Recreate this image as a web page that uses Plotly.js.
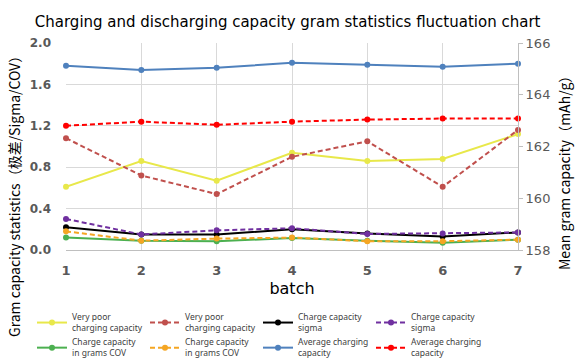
<!DOCTYPE html>
<html><head><meta charset="utf-8">
<script src="https://cdn.plot.ly/plotly-3.0.1.min.js"></script>
<style>html,body{margin:0;padding:0;background:#fff}#chart{width:587px;height:362px}</style>
</head><body><div id="chart"></div>
<script>
const batches = [1, 2, 3, 4, 5, 6, 7];
const seriesNames = [
  "Very poor<br>charging capacity",
  "Very poor<br>charging capacity",
  "Charge capacity<br>sigma",
  "Charge capacity<br>sigma",
  "Charge capacity<br>in grams COV",
  "Charge capacity<br>in grams COV",
  "Average charging<br>capacity",
  "Average charging<br>capacity"
];
const rangeSolid   = [0.61, 0.86, 0.67, 0.94, 0.86, 0.88, 1.12];
const rangeDashed  = [1.08, 0.72, 0.54, 0.90, 1.05, 0.61, 1.16];
const sigmaSolid   = [0.22, 0.15, 0.15, 0.20, 0.16, 0.13, 0.17];
const sigmaDashed  = [0.30, 0.15, 0.19, 0.21, 0.155, 0.16, 0.17];
const covSolid     = [0.12, 0.09, 0.085, 0.115, 0.09, 0.07, 0.10];
const covDashed    = [0.18, 0.09, 0.11, 0.12, 0.085, 0.085, 0.10];
const meanSolid    = [165.12, 164.96, 165.04, 165.24, 165.16, 165.08, 165.20];
const meanDashed   = [162.80, 162.96, 162.84, 162.96, 163.04, 163.08, 163.08];

const colors = ["#e8e84a", "#c0504d", "#000000", "#7030a0", "#4cb050", "#f5a623", "#4f81bd", "#ff0000"];
const dashes = ["solid", "5px,3px", "solid", "5px,3px", "solid", "5px,3px", "solid", "5px,3px"];
const values = [rangeSolid, rangeDashed, sigmaSolid, sigmaDashed, covSolid, covDashed, meanSolid, meanDashed];
const axes = ["y", "y", "y", "y", "y", "y", "y2", "y2"];

const traces = values.map((v, i) => ({
  x: batches, y: v, name: seriesNames[i], yaxis: axes[i],
  type: "scatter", mode: "lines+markers", cliponaxis: false,
  line: {color: colors[i], width: 2, dash: dashes[i]},
  marker: {color: colors[i], size: 6}
}));

const titleFont = {size: 14, color: "#000", family: "Noto Sans CJK SC, DejaVu Sans, sans-serif"};

const layout = {
  width: 587, height: 362,
  margin: {l: 66, r: 69, t: 43, b: 112, autoexpand: false},
  paper_bgcolor: "#fff", plot_bgcolor: "#fff",
  font: {family: "DejaVu Sans, sans-serif", color: "#595959"},
  title: {text: "Charging and discharging capacity gram statistics fluctuation chart",
          x: 0.49, xanchor: "center", y: 15, yanchor: "middle", yref: "container",
          font: {size: 15, color: "#000", family: "DejaVu Sans, sans-serif"}},
  xaxis: {range: [1, 7], tickvals: batches, ticktext: batches.map(String),
          showgrid: true, gridcolor: "#d9d9d9", zeroline: false,
          showline: true, linecolor: "#bfbfbf", ticks: "", ticklabelstandoff: 8,
          tickfont: {size: 13, color: "#595959", family: "DejaVu Sans, sans-serif", weight: "bold"},
          title: {text: "batch", standoff: 6, font: {size: 16, color: "#000"}}},
  yaxis: {range: [0, 2.0], tickvals: [0, 0.4, 0.8, 1.2, 1.6, 2.0],
          ticktext: ["0.0", "0.4", "0.8", "1.2", "1.6", "2.0"],
          showgrid: true, gridcolor: "#d9d9d9", zeroline: false, showline: false, ticks: "",
          ticklabelstandoff: 14,
          tickfont: {size: 12, color: "#595959", weight: "bold"}},
  yaxis2: {range: [158, 166], tickvals: [158, 160, 162, 164, 166], overlaying: "y", side: "right",
           showgrid: false, zeroline: false, showline: true, linecolor: "#bfbfbf",
           ticks: "outside", ticklen: 4, tickcolor: "#bfbfbf",
           tickfont: {size: 13, color: "#595959"}},
  annotations: [
    {text: "Gram capacity statistics（极差/Sigma/COV）", textangle: -90, showarrow: false,
     xref: "paper", yref: "paper", x: (14 - 66) / 452, y: (250 - 193) / 207,
     xanchor: "center", yanchor: "middle", font: titleFont},
    {text: "Mean gram capacity（mAh/g）", textangle: -90, showarrow: false,
     xref: "paper", yref: "paper", x: (564 - 66) / 452, y: (250 - 170) / 207,
     xanchor: "center", yanchor: "middle", font: titleFont}
  ],
  showlegend: true,
  legend: {orientation: "h", xref: "paper", yref: "paper",
           x: (32 - 66) / 452, xanchor: "left", y: (250 - 305) / 207, yanchor: "top",
           entrywidth: 68, entrywidthmode: "pixels", itemwidth: 30,
           font: {size: 8.5, color: "#404040", family: "Noto Sans, sans-serif"}, tracegroupgap: 0, valign: "middle"}
};

Plotly.newPlot("chart", traces, layout, {displayModeBar: false, staticPlot: true});
</script></body></html>
